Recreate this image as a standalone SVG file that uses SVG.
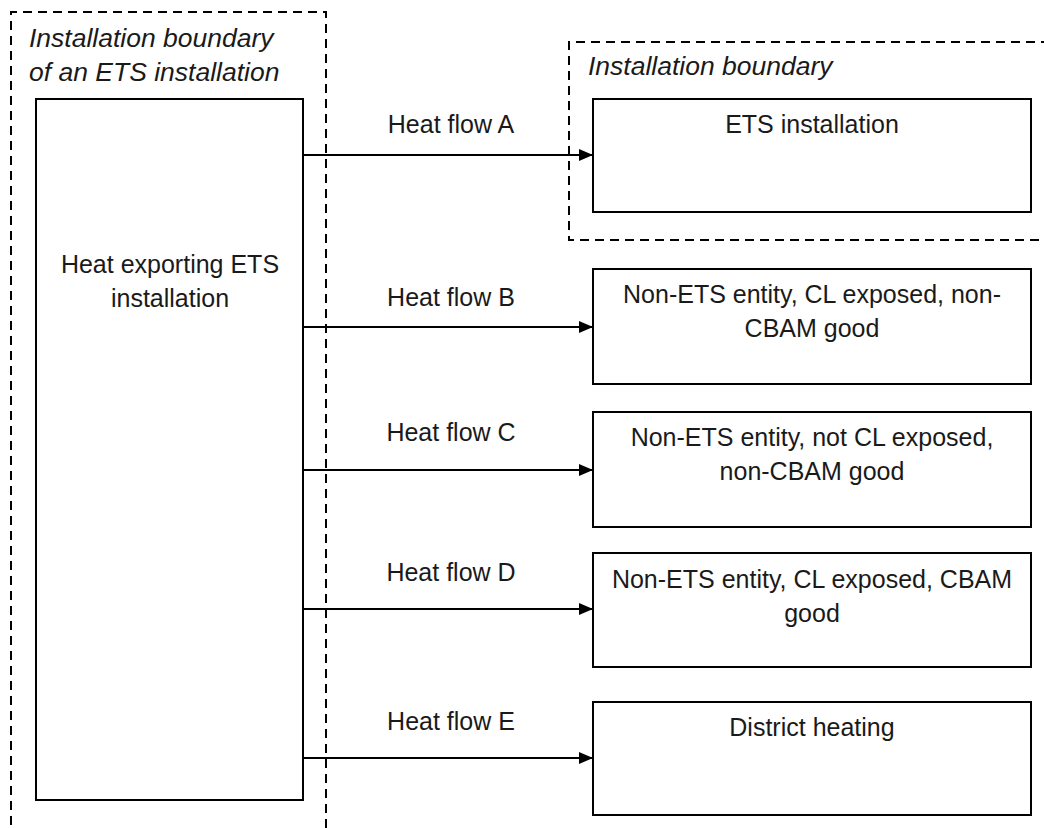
<svg xmlns="http://www.w3.org/2000/svg" width="1044" height="828" viewBox="0 0 1044 828">
<style>
  .box{fill:#fff;stroke:#000;stroke-width:2}
  .bnd{fill:none;stroke:#000;stroke-width:2;stroke-dasharray:9 6}
  .t{font-family:"Liberation Sans",Arial,sans-serif;font-size:25px;fill:#1a1a1a;text-anchor:middle}
  .it{font-family:"Liberation Sans",Arial,sans-serif;font-size:26.5px;font-style:italic;fill:#1a1a1a}
  .c{stroke:#000;stroke-width:2;fill:none;marker-end:url(#ah)}
</style>
<defs>
  <marker id="ah" markerUnits="userSpaceOnUse" markerWidth="14" markerHeight="12" refX="14" refY="6" orient="auto">
    <path d="M0,0 L14,6 L0,12 Z" fill="#000"/>
  </marker>
</defs>
<rect width="1044" height="828" fill="#fff"/>
<g id="boundary-left">
  <path class="bnd" d="M11,840 V12 H326 V840"/>
  <text class="it" x="29" y="47">Installation boundary</text>
  <text class="it" x="29" y="81">of an ETS installation</text>
</g>
<g id="boundary-right">
  <path class="bnd" d="M1050,42 H569 V240 H1050"/>
  <text class="it" x="588" y="75">Installation boundary</text>
</g>
<g id="exporter">
  <rect class="box" x="36" y="99" width="267" height="701"/>
  <text class="t" x="170" y="273">Heat exporting ETS</text>
  <text class="t" x="170" y="307">installation</text>
</g>
<g id="ets-installation">
  <rect class="box" x="593" y="99" width="438" height="113"/>
  <text class="t" x="812" y="133">ETS installation</text>
</g>
<g id="entity-b">
  <rect class="box" x="593" y="269" width="438" height="115"/>
  <text class="t" x="812" y="303">Non-ETS entity, CL exposed, non-</text>
  <text class="t" x="812" y="337">CBAM good</text>
</g>
<g id="entity-c">
  <rect class="box" x="593" y="412" width="438" height="115"/>
  <text class="t" x="812" y="446">Non-ETS entity, not CL exposed,</text>
  <text class="t" x="812" y="480">non-CBAM good</text>
</g>
<g id="entity-d">
  <rect class="box" x="593" y="553" width="438" height="114"/>
  <text class="t" x="812" y="588">Non-ETS entity, CL exposed, CBAM</text>
  <text class="t" x="812" y="622">good</text>
</g>
<g id="district-heating">
  <rect class="box" x="593" y="702" width="438" height="113"/>
  <text class="t" x="812" y="736">District heating</text>
</g>
<g id="connectors">
  <line class="c" x1="303" y1="155" x2="593" y2="155"/>
  <line class="c" x1="303" y1="327" x2="593" y2="327"/>
  <line class="c" x1="303" y1="470" x2="593" y2="470"/>
  <line class="c" x1="303" y1="609" x2="593" y2="609"/>
  <line class="c" x1="303" y1="758" x2="593" y2="758"/>
  <text class="t" x="451" y="133">Heat flow A</text>
  <text class="t" x="451" y="306">Heat flow B</text>
  <text class="t" x="451" y="441">Heat flow C</text>
  <text class="t" x="451" y="581">Heat flow D</text>
  <text class="t" x="451" y="730">Heat flow E</text>
</g>
</svg>
